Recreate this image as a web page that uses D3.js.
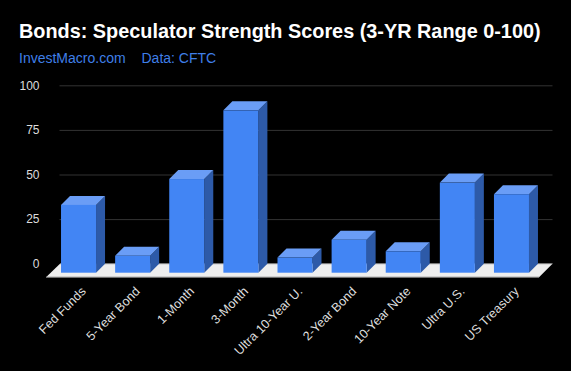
<!DOCTYPE html>
<html>
<head>
<meta charset="utf-8">
<script src="https://cdn.jsdelivr.net/npm/d3@7"></script>
<style>
    html, body { margin: 0; padding: 0; background: #000; }
    text { font-family: "Liberation Sans", Arial, sans-serif; }
</style>
</head>
<body>
<div id="chart"></div>
<script>
// Speculator strength scores
const categories = ["Fed Funds", "5-Year Bond", "1-Month", "3-Month", "Ultra 10-Year U.", "2-Year Bond", "10-Year Note", "Ultra U.S.", "US Treasury"];
const scores = [38, 9.5, 52.5, 91, 8.5, 18.5, 12, 50.5, 44];
const yTicks = [0, 25, 50, 75, 100];

const width = 571;
const height = 371;
const depth = 9; // shift between front of the floor and the back wall

const x = d3.scaleBand()
    .domain(categories)
    .range([51.5, 538.5])
    .paddingInner(0.353)
    .paddingOuter(0.176);

// front plane of the bars, the wall is the same scale shifted by depth
const y = d3.scaleLinear()
    .domain([0, 100])
    .range([272.7, 94.3]);

const svg = d3.select("#chart").append("svg")
    .attr("width", width)
    .attr("height", height)
    .style("display", "block");

svg.append("rect").attr("width", width).attr("height", height).attr("fill", "#000");

svg.append("text")
    .attr("x", 19)
    .attr("y", 38)
    .attr("fill", "#fff")
    .style("font-size", "19.85px")
    .style("font-weight", "bold")
    .text("Bonds: Speculator Strength Scores (3-YR Range 0-100)");

svg.append("text")
    .attr("x", 19)
    .attr("y", 63)
    .attr("fill", "#3f7fe8")
    .style("font-size", "14px")
    .text("InvestMacro.com");

svg.append("text")
    .attr("x", 141.5)
    .attr("y", 63)
    .attr("fill", "#3f7fe8")
    .style("font-size", "14px")
    .text("Data: CFTC");

// Grid lines on the back wall
const grid = svg.append("g")
    .attr("transform", `translate(59.5,${-depth})`)
    .call(d3.axisRight(y).tickValues(yTicks.slice(1)).tickSize(493).tickFormat(""));
grid.select(".domain").remove();
grid.selectAll("line").attr("stroke", "#333");

// Value labels
const yAxis = svg.append("g")
    .attr("transform", `translate(39.5,${-depth})`)
    .call(d3.axisLeft(y).tickValues(yTicks).tickSize(0).tickPadding(0));
yAxis.select(".domain").remove();
yAxis.selectAll("text")
    .attr("fill", "#ddd")
    .style("font-size", "12px")
    .style("font-family", '"Liberation Sans", Arial, sans-serif');

// Floor
const floorBack = y(0) - depth;
const floorFront = y(0) + 4.5;
svg.append("path")
    .attr("d", `M60,${floorBack}L552.5,${floorBack}L539,${floorFront}L46,${floorFront}Z`)
    .attr("fill", "#eee");
svg.append("line")
    .attr("x1", 60).attr("x2", 552.5)
    .attr("y1", floorBack).attr("y2", floorBack)
    .attr("stroke", "#888").attr("stroke-width", 1);
svg.append("line")
    .attr("x1", 46).attr("x2", 539)
    .attr("y1", floorFront).attr("y2", floorFront)
    .attr("stroke", "#888").attr("stroke-width", 1);

// Bars: side, top, then front face
const bars = svg.selectAll(".bar")
    .data(categories.map((name, i) => ({ name, score: scores[i] })))
    .enter().append("g")
    .attr("class", "bar");

bars.append("path")
    .attr("fill", "#2d5aa8")
    .attr("d", d => {
        const r = x(d.name) + x.bandwidth();
        return `M${r},${y(d.score)}l${depth},${-depth}L${r + depth},${y(0) - depth}L${r},${y(0)}Z`;
    });

bars.append("path")
    .attr("fill", "#6a9df6")
    .attr("d", d => `M${x(d.name)},${y(d.score)}l${depth},${-depth}h${x.bandwidth()}l${-depth},${depth}Z`);

bars.append("rect")
    .attr("fill", "#4285f4")
    .attr("x", d => x(d.name))
    .attr("y", d => y(d.score))
    .attr("width", x.bandwidth())
    .attr("height", d => y(0) - y(d.score));

// Category labels
const xAxis = svg.append("g")
    .attr("transform", "translate(1,285)")
    .call(d3.axisBottom(x).tickSize(0).tickPadding(0));
xAxis.select(".domain").remove();
xAxis.selectAll("text")
    .attr("fill", "#ddd")
    .attr("text-anchor", "end")
    .attr("dy", "0.8em")
    .attr("transform", "rotate(-45)")
    .style("font-size", "12.6px")
    .style("font-family", '"Liberation Sans", Arial, sans-serif');
</script>
</body>
</html>
